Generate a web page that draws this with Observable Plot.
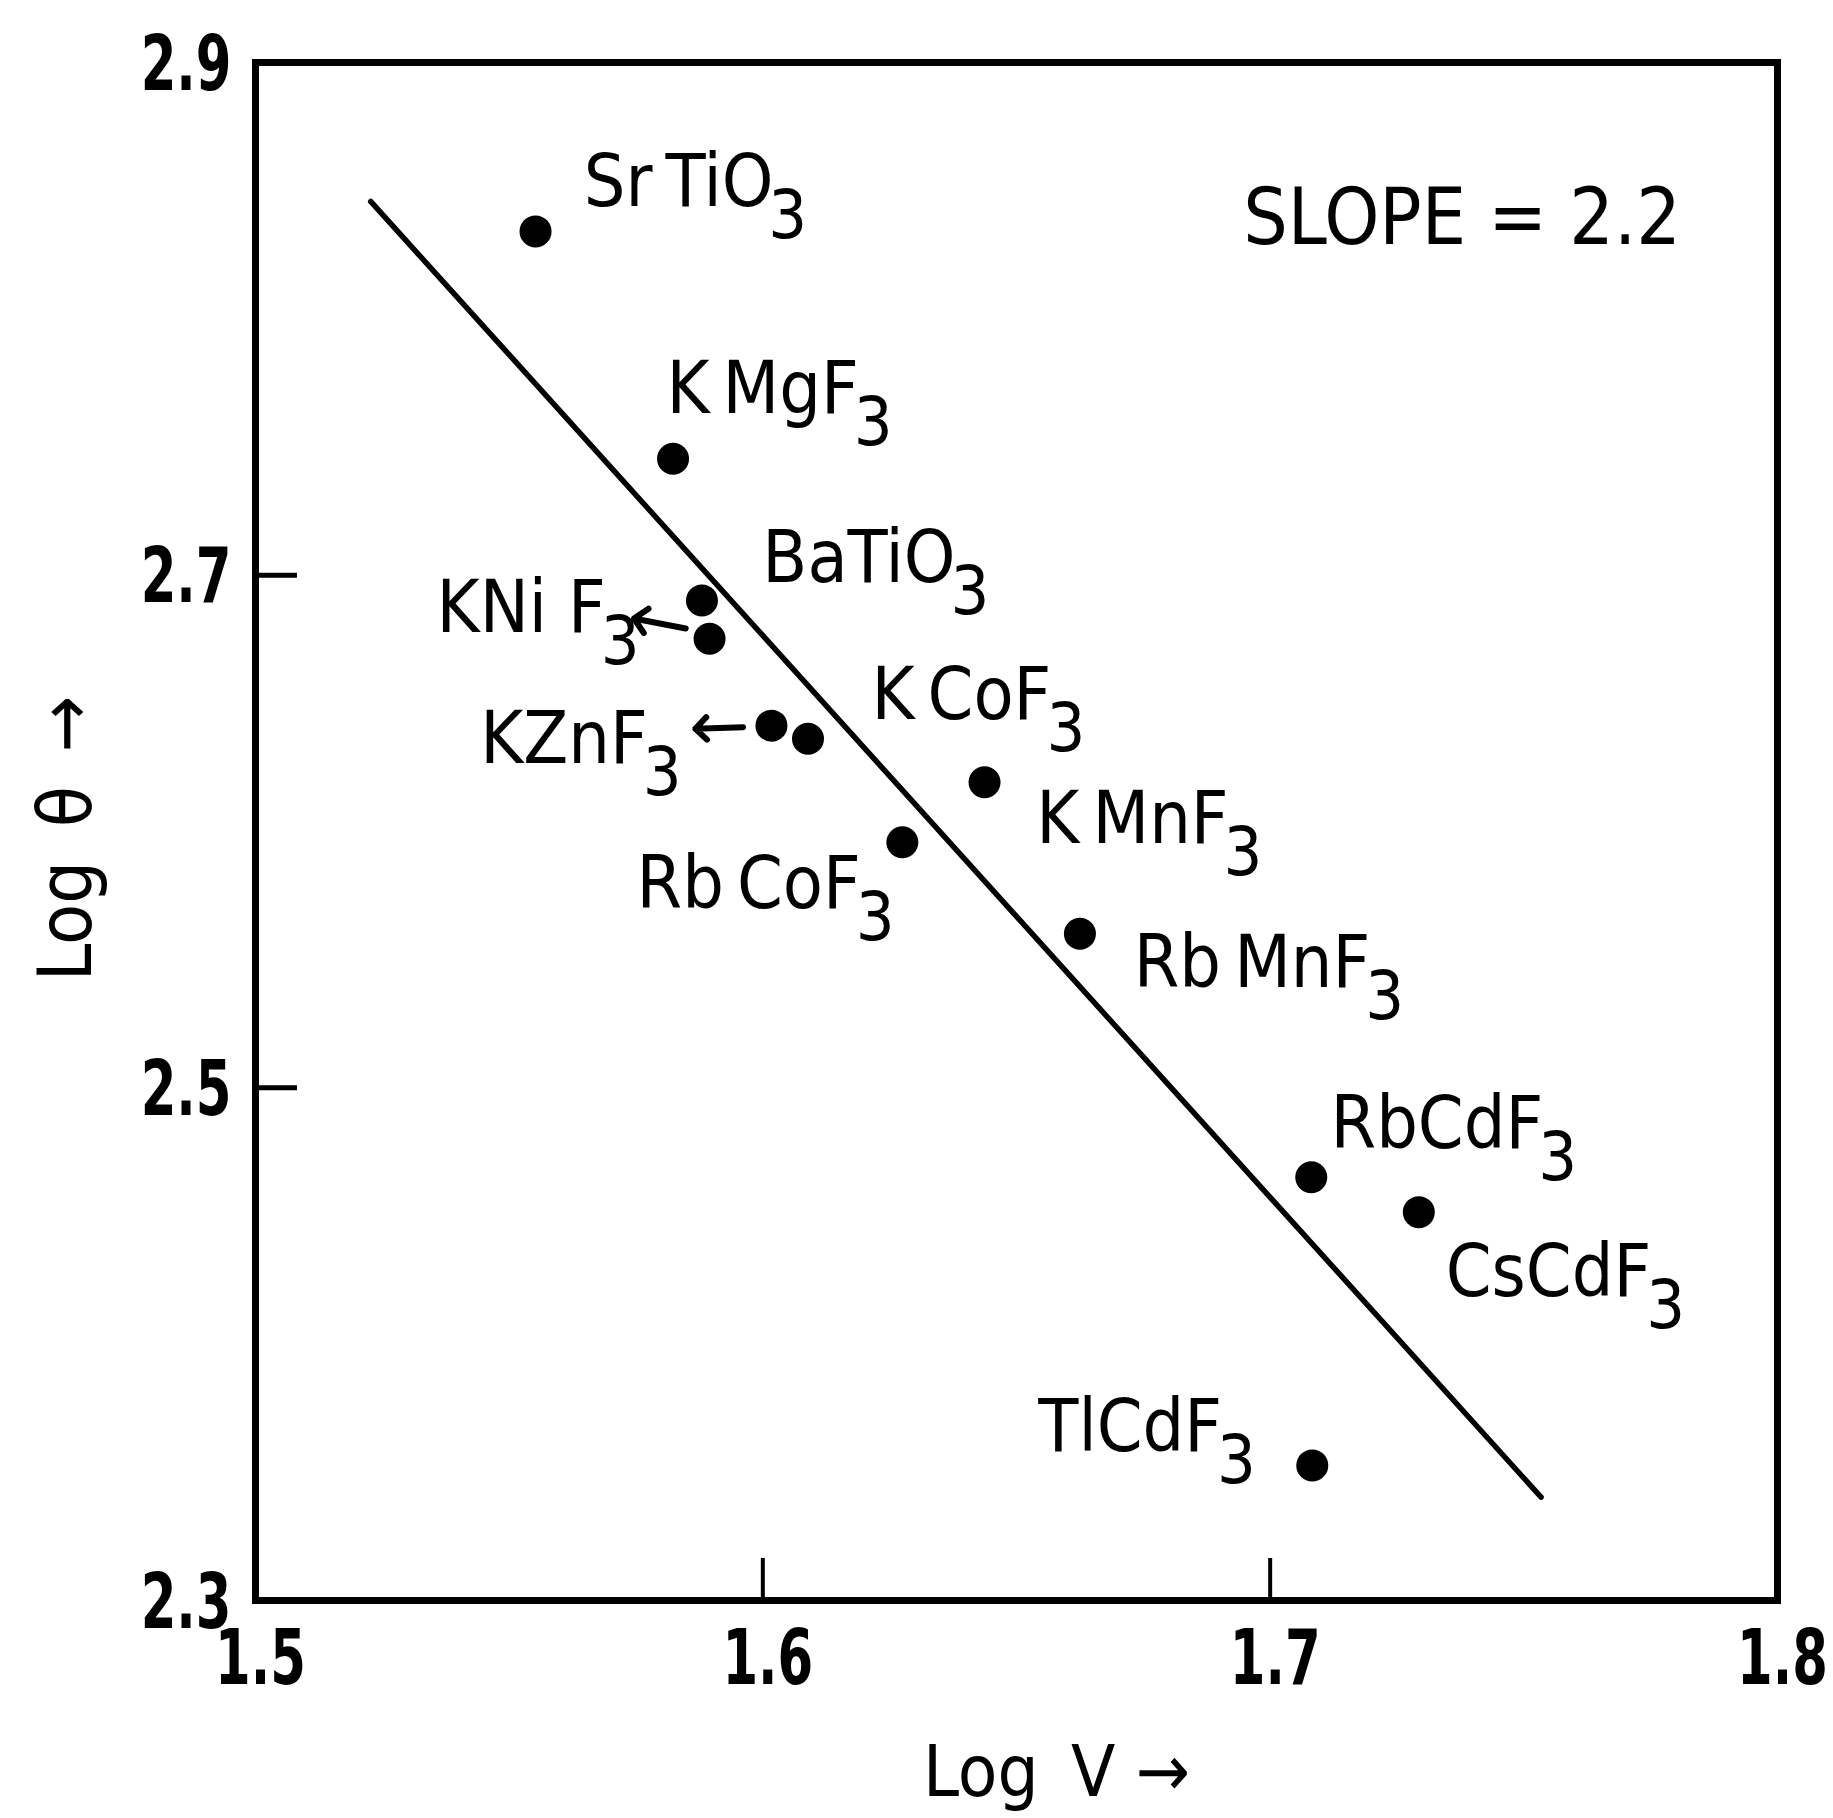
<!DOCTYPE html>
<html>
<head>
<meta charset="utf-8">
<script src="https://cdn.jsdelivr.net/npm/d3@7"></script>
<script src="https://cdn.jsdelivr.net/npm/@observablehq/plot@0.6"></script>
<style>
  html, body { margin: 0; padding: 0; background: #ffffff; }
  svg { display: block; }
</style>
</head>
<body>
<script>
// ---- data ----
const names = ["SrTiO3", "KMgF3", "BaTiO3", "KNiF3", "KZnF3", "KCoF3", "KMnF3", "RbCoF3", "RbMnF3", "RbCdF3", "CsCdF3", "TlCdF3"];
const logV     = [1.5552, 1.5823, 1.5880, 1.5895, 1.6017, 1.6089, 1.6437, 1.6275, 1.6625, 1.7081, 1.7293, 1.7083];
const logTheta = [2.8341, 2.7454, 2.6901, 2.6752, 2.6413, 2.6362, 2.6192, 2.5958, 2.5601, 2.4651, 2.4515, 2.3527];

// label texts and their anchors (data coordinates) as printed on the figure
const labelText = ["Sr\u2009TiO3", "K\u2009MgF3", "BaTiO3", "KNi F3", "KZnF3", "K\u2009CoF3", "K\u2009MnF3", "Rb\u2009CoF3", "Rb\u2009MnF3", "RbCdF3", "CsCdF3", "TlCdF3"];
const labelX = [1.5647, 1.5810, 1.5999, 1.5357, 1.5443, 1.6214, 1.6539, 1.5751, 1.6731, 1.7119, 1.7346, 1.6543];
const labelY = [2.8533, 2.7722, 2.7063, 2.6868, 2.6357, 2.6532, 2.6048, 2.5791, 2.5483, 2.4855, 2.4281, 2.3676];

// pointer arrows (from dot towards label)
const arrowX1 = [1.5848, 1.5961];
const arrowY1 = [2.6792, 2.6407];
const arrowX2 = [1.5746, 1.5867];
const arrowY2 = [2.6831, 2.6401];

// fitted line end points
const fitX = [1.5227, 1.7534];
const fitY = [2.8458, 2.3403];

const slopeText = "SLOPE = 2.2";
const slopeX = 1.6947, slopeY = 2.8391;

const xTicks = [1.5, 1.6, 1.7, 1.8];
const yTicks = [2.3, 2.5, 2.7, 2.9];
const xInnerTicks = [1.6, 1.7];
const yInnerTicks = [2.5, 2.7];
const xLabel = "Log\u2002V \u2192";
const yLabel = "Log\u2002\u03B8\u2002\u2192";

// ---- build tables ----
const points = names.map((n, i) => ({name: n, x: logV[i], y: logTheta[i]}));
const labels = labelText.map((t, i) => ({text: t, x: labelX[i], y: labelY[i]}));
const arrows = arrowX1.map((d, i) => ({x1: arrowX1[i], y1: arrowY1[i], x2: arrowX2[i], y2: arrowY2[i]}));
const fit = fitX.map((d, i) => ({x: fitX[i], y: fitY[i]}));

const W = 1833, H = 1818;
const mL = 255, mR = 56, mT = 62, mB = 218;
const frameW = W - mL - mR, frameH = H - mT - mB;

const labelFont = "'DejaVu Sans Condensed', 'DejaVu Sans', sans-serif";
const tickFont = "'DejaVu Sans Condensed', 'DejaVu Sans', sans-serif";

const chart = Plot.plot({
  width: W,
  height: H,
  marginLeft: mL,
  marginRight: mR,
  marginTop: mT,
  marginBottom: mB,
  style: {background: "#ffffff", color: "#000000", fontFamily: labelFont},
  x: {domain: [1.5, 1.8]},
  y: {domain: [2.3, 2.9]},
  marks: [
    Plot.frame({stroke: "#000", strokeWidth: 7}),
    Plot.axisX(xTicks, {tickSize: 0, tickPadding: 30, dx: 5, fontSize: 76, fontWeight: "bold", fontFamily: tickFont, tickFormat: d => d.toFixed(1), label: null}),
    Plot.axisY(yTicks, {tickSize: 0, tickPadding: 24, dy: 3, fontSize: 76, fontWeight: "bold", fontFamily: tickFont, tickFormat: d => d.toFixed(1), label: null}),
    Plot.tickX(xInnerTicks, {x: d => d, stroke: "#000", strokeWidth: 4, insetTop: frameH - 42}),
    Plot.tickY(yInnerTicks, {y: d => d, stroke: "#000", strokeWidth: 5, insetRight: frameW - 42}),
    Plot.line(fit, {x: "x", y: "y", stroke: "#000", strokeWidth: 5.5}),
    Plot.dot(points, {x: "x", y: "y", r: 16, fill: "#000", stroke: "none"}),
    Plot.arrow(arrows, {x1: "x1", y1: "y1", x2: "x2", y2: "y2", stroke: "#000", strokeWidth: 6, headLength: 16, headAngle: 90}),
    Plot.text(labels, {x: "x", y: "y", text: "text", textAnchor: "start", lineAnchor: "middle", fontSize: 73, fill: "#000", fontFamily: labelFont, className: "formula"}),
    Plot.text([slopeText], {x: () => slopeX, y: () => slopeY, text: d => d, textAnchor: "start", lineAnchor: "middle", fontSize: 78, fill: "#000", fontFamily: labelFont, letterSpacing: 1}),
    Plot.text([xLabel], {frameAnchor: "bottom", text: d => d, textAnchor: "middle", lineAnchor: "middle", dx: 40, dy: 172, fontSize: 72, fill: "#000", fontFamily: labelFont, letterSpacing: 4}),
    Plot.text([yLabel], {frameAnchor: "left", text: d => d, textAnchor: "middle", lineAnchor: "middle", rotate: -90, dx: -189, dy: 7, fontSize: 75, fill: "#000", fontFamily: labelFont, letterSpacing: 4})
  ]
});

const svg = d3.select(chart);

// narrow the bold tick numerals like the original lettering
svg.selectAll('g[aria-label="x-axis tick label"] text, g[aria-label="y-axis tick label"] text').each(function () {
  const t = this.getAttribute("transform");
  if (t) {
    this.setAttribute("transform", t + " scale(0.75,1)");
  } else {
    const x = +this.getAttribute("x") || 0, y = +this.getAttribute("y") || 0;
    this.setAttribute("x", 0);
    this.setAttribute("y", 0);
    this.setAttribute("transform", `translate(${x},${y}) scale(0.75,1)`);
  }
});

// render the trailing digit of each formula as a lowered subscript
svg.selectAll("g.formula text").each(function () {
  const s = this.textContent;
  const m = s.match(/^(.*?)(\d)$/);
  if (m) {
    this.textContent = m[1];
    d3.select(this).append("tspan").attr("dx", -5).attr("dy", 32).attr("font-size", 68).text(m[2]);
  }
});

document.body.appendChild(chart);
</script>
</body>
</html>
